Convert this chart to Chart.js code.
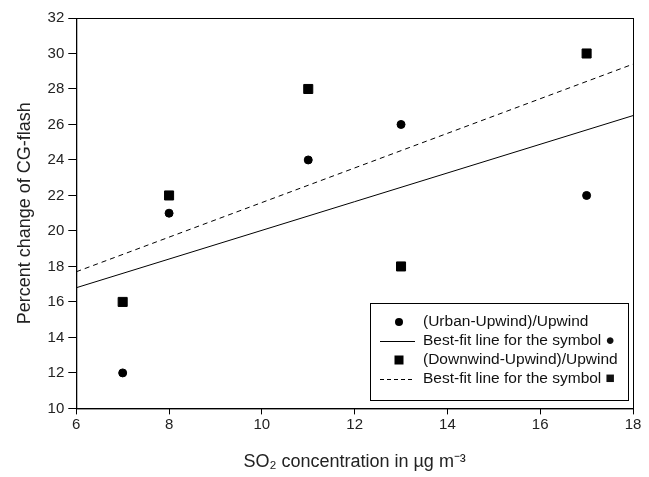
<!DOCTYPE html>
<html>
<head>
<meta charset="utf-8">
<script src="https://cdn.jsdelivr.net/npm/chart.js@4/dist/chart.umd.min.js"></script>
<style>
  html, body { margin: 0; padding: 0; background: #fff; }
  #wrap { width: 649px; height: 477px; }
</style>
</head>
<body>
<div id="wrap"><canvas id="myChart" width="649" height="477"></canvas></div>
<script>
// Datos
var so2 = [7, 8, 11, 13, 17];
var urbanUp = [12, 21, 24, 26, 22];      // (Urban-Upwind)/Upwind
var downUp = [16, 22, 28, 18, 30];       // (Downwind-Upwind)/Upwind
var fitX = [6, 18];
var fitUrban = [16.8, 26.5];
var fitDown = [17.7, 29.4];
var legendLabels = [
  '(Urban-Upwind)/Upwind',
  'Best-fit line for the symbol \u25CF',
  '(Downwind-Upwind)/Upwind',
  'Best-fit line for the symbol \u25A0'
];

function pts(xs, ys) {
  return xs.map(function (x, i) { return { x: x, y: ys[i] }; });
}

var fontFam = '"Liberation Sans", Arial, sans-serif';

// Marco del área y leyenda dibujada dentro del gráfico
var boxPlugin = {
  id: 'boxLegend',
  afterDraw: function (chart) {
    var ctx = chart.ctx;
    var a = chart.chartArea;
    ctx.save();
    ctx.strokeStyle = '#000';
    ctx.lineWidth = 1;
    ctx.strokeRect(a.left + 0.5, a.top + 0.5, a.right - a.left, a.bottom - a.top);

    // leyenda
    var lx = 370.5, ly = 303.5, lw = 258, lh = 97;
    ctx.fillStyle = '#fff';
    ctx.fillRect(lx, ly, lw, lh);
    ctx.strokeRect(lx, ly, lw, lh);
    ctx.font = '15.5px ' + fontFam;
    ctx.textBaseline = 'middle';
    var rows = [322, 341, 360, 379];
    var symX = 399;
    rows.forEach(function (y, i) {
      ctx.fillStyle = '#000';
      ctx.beginPath();
      if (i === 0) {
        ctx.arc(symX, y, 4, 0, Math.PI * 2);
        ctx.fill();
      } else if (i === 2) {
        ctx.fillRect(symX - 4.5, y - 4.5, 9, 9);
      } else {
        ctx.setLineDash(i === 3 ? [4, 3] : []);
        ctx.moveTo(380, y + 0.5);
        ctx.lineTo(415, y + 0.5);
        ctx.stroke();
        ctx.setLineDash([]);
      }
      ctx.fillStyle = '#111';
      ctx.fillText(legendLabels[i], 423, y);
    });
    ctx.restore();
  }
};

var ctx2 = document.getElementById('myChart').getContext('2d');
var chart = new Chart(ctx2, {
  type: 'scatter',
  data: {
    datasets: [
      {
        label: legendLabels[0],
        data: pts(so2, urbanUp),
        pointStyle: 'circle',
        pointRadius: 4,
        backgroundColor: '#000',
        borderColor: '#000'
      },
      {
        label: legendLabels[1],
        type: 'line',
        data: pts(fitX, fitUrban),
        borderColor: '#000',
        borderWidth: 1,
        pointRadius: 0,
        fill: false
      },
      {
        label: legendLabels[2],
        data: pts(so2, downUp),
        pointStyle: 'rect',
        pointRadius: 6.4,
        backgroundColor: '#000',
        borderColor: '#000'
      },
      {
        label: legendLabels[3],
        type: 'line',
        data: pts(fitX, fitDown),
        borderColor: '#000',
        borderWidth: 1,
        borderDash: [5, 4],
        pointRadius: 0,
        fill: false
      }
    ]
  },
  options: {
    responsive: false,
    animation: false,
    layout: { padding: { top: 18, right: 16, left: 14, bottom: 4 } },
    plugins: {
      legend: { display: false },
      tooltip: { enabled: false }
    },
    scales: {
      x: {
        type: 'linear',
        min: 6,
        max: 18,
        ticks: { stepSize: 2, color: '#222', font: { family: fontFam, size: 15 }, padding: 1 },
        grid: { drawOnChartArea: false, tickLength: 6, color: '#000' },
        border: { color: '#000' },
        title: {
          display: true,
          text: 'SO\u2082 concentration in \u00B5g m\u207B\u00B3',
          color: '#222',
          font: { family: fontFam, size: 18 },
          padding: { top: 17, bottom: 0 }
        }
      },
      y: {
        min: 10,
        max: 32,
        ticks: { stepSize: 2, color: '#222', font: { family: fontFam, size: 15 }, padding: 4 },
        grid: { drawOnChartArea: false, tickLength: 8, color: '#000' },
        border: { color: '#000' },
        title: {
          display: true,
          text: 'Percent change of CG-flash',
          color: '#222',
          font: { family: fontFam, size: 18 },
          padding: { top: 0, bottom: 8 }
        }
      }
    }
  },
  plugins: [boxPlugin]
});
</script>
</body>
</html>
